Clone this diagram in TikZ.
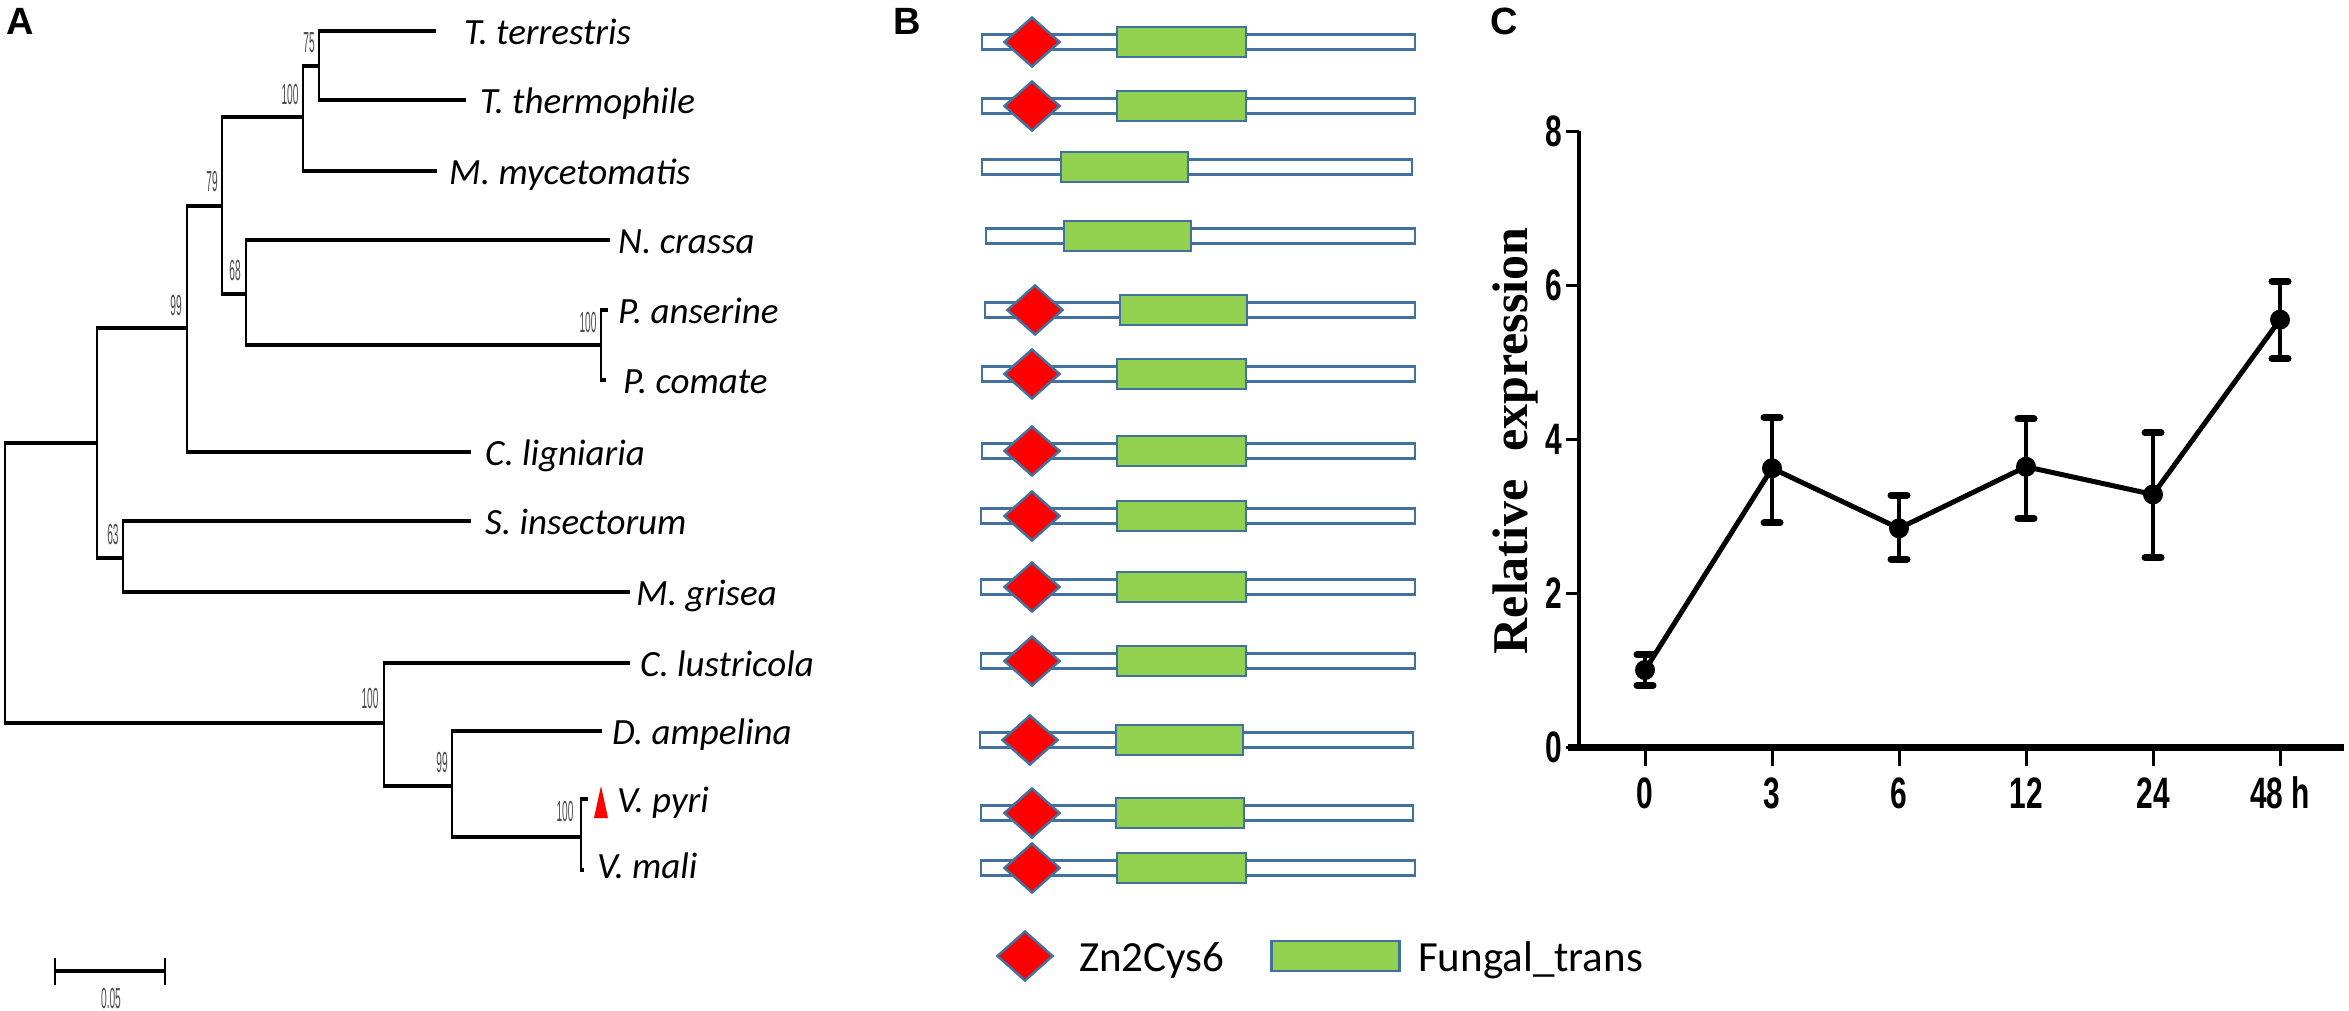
\documentclass[tikz,border=0pt]{standalone}
\usepackage{fontspec}
\setmainfont{Carlito}
\newfontfamily\panelfont{Liberation Sans}
\newfontfamily\bootfont[FakeStretch=0.35]{Liberation Sans}
\newfontfamily\tickfont[FakeStretch=0.68]{Liberation Sans}
\newfontfamily\ylabfont{Liberation Serif}
\usetikzlibrary{shapes.geometric,calc}

\definecolor{domline}{HTML}{41719C}
\definecolor{transgreen}{HTML}{92D050}
\definecolor{zinc}{HTML}{FF0000}

\begin{document}
\begin{tikzpicture}[x=1pt, y=-1pt,
panel/.style={font=\panelfont\bfseries\fontsize{38}{40}\selectfont, anchor=north west, inner sep=0pt},
hbr/.style={line width=4.5pt},
vbr/.style={line width=2pt, shorten <=-2pt, shorten >=-2pt},
taxon/.style={font=\itshape\fontsize{37}{40}\selectfont, anchor=base west, inner sep=0pt},
boot/.style={font=\bootfont\fontsize{29}{30}\selectfont, text=black!70, inner sep=0pt},
backbone/.style={draw=domline, line width=2.5pt, fill=white},
transbox/.style={draw=domline, line width=2.5pt, fill=transgreen},
zincbox/.style={diamond, draw=domline, line width=2.5pt, fill=zinc,
    minimum width=56pt, minimum height=50pt, inner sep=0pt},
keytext/.style={font=\fontsize{43}{46}\selectfont, anchor=base west, inner sep=0pt},
ticklab/.style={font=\tickfont\bfseries\fontsize{44}{46}\selectfont, inner sep=0pt},
errbar/.style={line width=4.5pt},
errcap/.style={line width=7pt, line cap=round},
]
\path[fill=white, use as bounding box] (0,0) rectangle (2349,1010);

\node[panel] (labA) at (6,8) {A};
\node[panel] (labB) at (893,8) {B};
\node[panel] (labC) at (1490,8) {C};

% tree
\coordinate (nroot) at (5,583);
\coordinate (nA) at (97,443);
\coordinate (n99) at (187,328);
\coordinate (n79) at (222,206);
\coordinate (n100a) at (303,117);
\coordinate (n75) at (319,66);
\coordinate (n68) at (246,294);
\coordinate (nP) at (601,345);
\coordinate (n63) at (123,558);
\coordinate (n100b) at (384,723);
\coordinate (n99b) at (452,786);
\coordinate (nV) at (581,837);

\coordinate (tTter) at (436,31);
\coordinate (tTthe) at (466,100);
\coordinate (tMmyc) at (437,171);
\coordinate (tNcra) at (610,240);
\coordinate (tPans) at (608,310);
\coordinate (tPcom) at (606,380);
\coordinate (tClig) at (471,452);
\coordinate (tSins) at (471,521);
\coordinate (tMgri) at (630,592);
\coordinate (tClus) at (630,663);
\coordinate (tDamp) at (602,731);
\coordinate (tVpyr) at (588,799);
\coordinate (tVmal) at (584,870);

\foreach \p/\c in {nroot/nA, nroot/n100b, nA/n99, nA/n63, n99/n79, n99/tClig,
    n79/n100a, n79/n68, n100a/n75, n100a/tMmyc, n75/tTter, n75/tTthe,
    n68/tNcra, n68/nP, nP/tPans, nP/tPcom, n63/tSins, n63/tMgri,
    n100b/tClus, n100b/n99b, n99b/tDamp, n99b/nV, nV/tVpyr, nV/tVmal}
  \draw[hbr] (\p |- \c) -- (\c);

\foreach \p/\a/\b in {nroot/nA/n100b, nA/n99/n63, n99/n79/tClig, n79/n100a/n68,
    n100a/n75/tMmyc, n75/tTter/tTthe, n68/tNcra/nP, nP/tPans/tPcom,
    n63/tSins/tMgri, n100b/tClus/n99b, n99b/tDamp/nV, nV/tVpyr/tVmal}
  \draw[vbr] (\p |- \a) -- (\p |- \b);

\node[boot] (b75) at (309,43) {75};
\node[boot] (b100a) at (290,95) {100};
\node[boot] (b79) at (212,182) {79};
\node[boot] (b68) at (235,271) {68};
\node[boot] (b99) at (176,306) {99};
\node[boot] (b100p) at (588,323) {100};
\node[boot] (b63) at (113,535) {63};
\node[boot] (b100b) at (370,699) {100};
\node[boot] (b99b) at (442,763) {99};
\node[boot] (b100v) at (565,812) {100};

\node[taxon] (lTter) at (464,44) {T. terrestris};
\node[taxon] (lTthe) at (480,113) {T. thermophile};
\node[taxon] (lMmyc) at (449,184) {M. mycetomatis};
\node[taxon] (lNcra) at (618,253) {N. crassa};
\node[taxon] (lPans) at (618,323) {P. anserine};
\node[taxon] (lPcom) at (623,393) {P. comate};
\node[taxon] (lClig) at (485,465) {C. ligniaria};
\node[taxon] (lSins) at (485,534) {S. insectorum};
\node[taxon] (lMgri) at (636,605) {M. grisea};
\node[taxon] (lClus) at (640,676) {C. lustricola};
\node[taxon] (lDamp) at (612,744) {D. ampelina};
\node[taxon] (lVpyr) at (617,812) {V. pyri};
\node[taxon] (lVmal) at (597,878) {V. mali};

\fill[zinc] (594,818) -- (601,786) -- (608,818) -- cycle;

\coordinate (sbl) at (55,971);
\coordinate (sbr) at (165,971);
\draw[hbr] (sbl) -- (sbr);
\draw[vbr] ([yshift=11pt]sbl) -- ([yshift=-12pt]sbl);
\draw[vbr] ([yshift=11pt]sbr) -- ([yshift=-12pt]sbr);
\node[boot] (sbtext) at (111,998) {0.05};

% domains
\foreach \y/\a/\b/\ga/\gb/\dx [count=\i] in {
    42/982/1415/1117/1246/1032, 106/982/1415/1117/1246/1032,
    167/982/1412/1061/1188/0, 236/986/1415/1064/1191/0,
    310/985/1415/1120/1247/1035, 374/982/1415/1117/1246/1032,
    451/982/1415/1117/1246/1032, 516/981/1415/1117/1246/1032,
    587/981/1415/1117/1246/1032, 661/981/1415/1117/1246/1032,
    740/980/1413/1116/1243/1030, 813/981/1413/1116/1244/1032,
    868/981/1415/1117/1246/1032}{
  \draw[backbone] (\a,\y-7.5) rectangle (\b,\y+7.5);
  \draw[transbox] (\ga,\y-15) rectangle (\gb,\y+15);
  \ifnum\dx>0 \node[zincbox] (zn\i) at (\dx,\y) {}; \fi
}

\node[zincbox] (keyzn) at (1025,956) {};
\node[keytext] (keyzntext) at (1079,971) {Zn2Cys6};
\node[transbox, minimum width=128pt, minimum height=30pt, inner sep=0pt, anchor=west] (keyft) at (1270,956) {};
\node[keytext] (keyfttext) at (1418,971) {Fungal\_trans};

% expression
\node[font=\ylabfont\bfseries\fontsize{50}{52}\selectfont, rotate=90, anchor=base, inner sep=0pt] (ylab) at (1527,441) {Relative\hspace{0.3em} expression};

\begin{scope}[shift={(1579,747)}, y=77pt]
  \draw[line width=4.5pt] (0,0) -- (0,8);
  \draw[line width=7pt] (-11,0) -- (765,0);
  \foreach \v in {0,2,...,8}{
    \draw[line width=3pt] (-13,\v) -- (0,\v);
    \node[ticklab, anchor=east] (yt\v) at (-17,\v) {\v};
  }
  \foreach \lab/\m/\lo/\hi [count=\i from 0] in {0/1.0/0.8/1.2, 3/3.62/2.91/4.28,
      6/2.84/2.44/3.27, 12/3.64/2.97/4.26, 24/3.28/2.46/4.08, 48 h/5.55/5.04/6.05}{
    \coordinate (d\i) at ({66+127*\i},\m);
    \draw[line width=3pt] ({66+127*\i},0) -- ++(0pt,-19pt);
    \node[ticklab] (xt\i) at ([yshift=-46pt]{66+127*\i},0) {\lab};
    \draw[errbar] ({66+127*\i},\lo) -- ({66+127*\i},\hi);
    \draw[errcap] ({58+127*\i},\lo) -- ({74+127*\i},\lo);
    \draw[errcap] ({58+127*\i},\hi) -- ({74+127*\i},\hi);
  }
  \draw[line width=5pt, line join=round] (d0) -- (d1) -- (d2) -- (d3) -- (d4) -- (d5);
  \foreach \i in {0,...,5}
    \fill (d\i) circle (10pt);
\end{scope}
\end{tikzpicture}
\end{document}
